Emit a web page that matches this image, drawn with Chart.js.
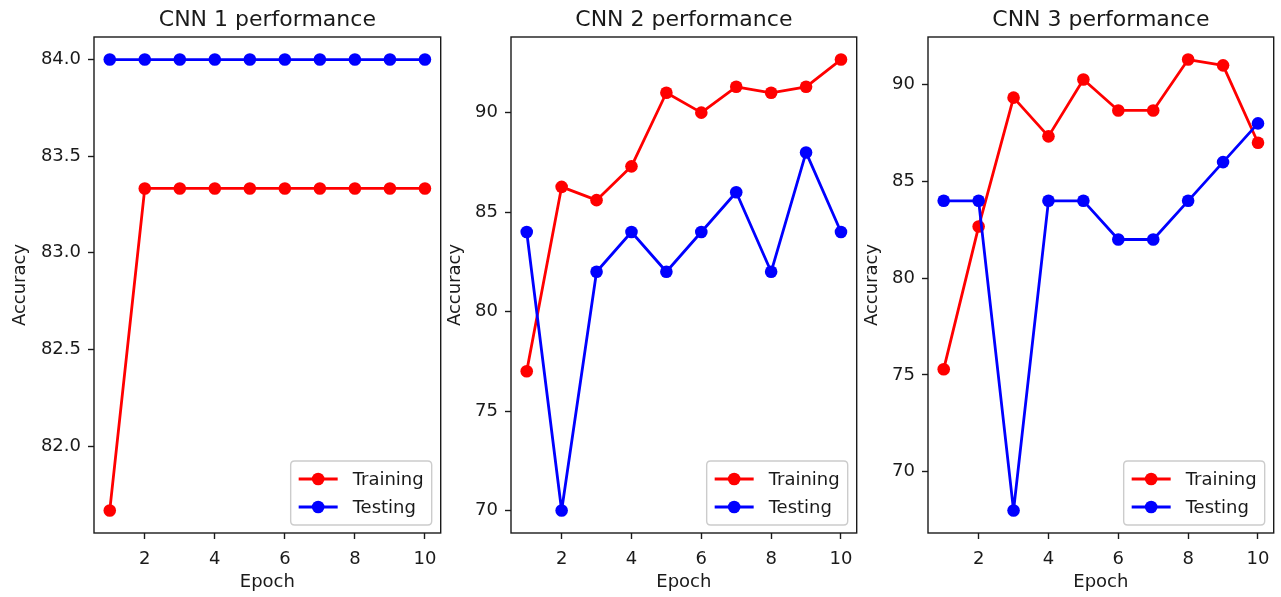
<!DOCTYPE html>
<html><head><meta charset="utf-8">
<script src="https://cdn.jsdelivr.net/npm/chart.js@4.4.0/dist/chart.umd.min.js"></script>
<style>
html,body{margin:0;padding:0;background:#fff;}
#wrap{position:relative;width:1281px;height:597px;overflow:hidden;background:#fff;}
canvas{position:absolute;top:0;}
</style></head><body>
<div id="wrap">
<canvas id="c1"></canvas><canvas id="c2"></canvas><canvas id="c3"></canvas>
</div>
<script>
// ---- data ----
const epochs = [1, 2, 3, 4, 5, 6, 7, 8, 9, 10];
const titles = ['CNN 1 performance', 'CNN 2 performance', 'CNN 3 performance'];
const seriesNames = ['Training', 'Testing'];
const xAxisLabel = 'Epoch';
const yAxisLabel = 'Accuracy';

const cnn1Training = [81.667, 83.333, 83.333, 83.333, 83.333, 83.333, 83.333, 83.333, 83.333, 83.333];
const cnn1Testing  = [84, 84, 84, 84, 84, 84, 84, 84, 84, 84];
const cnn2Training = [77, 86.27, 85.6, 87.3, 91, 90, 91.3, 91, 91.3, 92.67];
const cnn2Testing  = [84, 70, 82, 84, 82, 84, 86, 82, 88, 84];
const cnn3Training = [75.3, 82.67, 89.33, 87.33, 90.27, 88.67, 88.67, 91.3, 91, 87];
const cnn3Testing  = [84, 84, 68, 84, 84, 82, 82, 84, 86, 88];

const xTicks = [2, 4, 6, 8, 10];
const cnn1YTicks = [82.0, 82.5, 83.0, 83.5, 84.0];
const cnn2YTicks = [70, 75, 80, 85, 90];
const cnn3YTicks = [70, 75, 80, 85, 90];

// ---- styling / layout ----
Chart.defaults.font.family = '"DejaVu Sans", sans-serif';
Chart.defaults.color = '#1a1a1a';
const RED = '#ff0000', BLUE = '#0000ff', INK = '#1a1a1a';
const MR = 6.3, LW = 2.8;
const panels = [
  {id: 'c1', L: 94,  R: 442, train: cnn1Training, test: cnn1Testing, yTicks: cnn1YTicks, dec: 1, title: titles[0], ytPad: 10},
  {id: 'c2', L: 511, R: 858, train: cnn2Training, test: cnn2Testing, yTicks: cnn2YTicks, dec: 0, title: titles[1], ytPad: 28},
  {id: 'c3', L: 928, R: 1275, train: cnn3Training, test: cnn3Testing, yTicks: cnn3YTicks, dec: 0, title: titles[2], ytPad: 28},
];
const YAXIS_W = 94, XAXIS_H = 64, PAD_R = 5, H = 597;

const framePlugin = {
  id: 'frame',
  afterDatasetsDraw(chart) {
    const a = chart.chartArea, ctx = chart.ctx;
    ctx.save();
    ctx.strokeStyle = INK; ctx.lineWidth = 1.4;
    ctx.strokeRect(a.left, a.top, a.right - a.left, a.bottom - a.top);
    ctx.restore();
  }
};

function rr(ctx, x, y, w, h, r) {
  ctx.beginPath();
  ctx.moveTo(x + r, y);
  ctx.lineTo(x + w - r, y); ctx.quadraticCurveTo(x + w, y, x + w, y + r);
  ctx.lineTo(x + w, y + h - r); ctx.quadraticCurveTo(x + w, y + h, x + w - r, y + h);
  ctx.lineTo(x + r, y + h); ctx.quadraticCurveTo(x, y + h, x, y + h - r);
  ctx.lineTo(x, y + r); ctx.quadraticCurveTo(x, y, x + r, y);
  ctx.closePath();
}

const legendPlugin = {
  id: 'mplLegend',
  afterDraw(chart) {
    const ctx = chart.ctx, a = chart.chartArea, fs = 18;
    ctx.save();
    ctx.font = fs + 'px "DejaVu Sans"';
    const ds = chart.data.datasets;
    const tw = Math.max(...ds.map(d => ctx.measureText(d.label).width));
    const pad = 8, hl = 39, htp = 15;
    const w = pad + hl + htp + tw + pad, h = 64;
    const x = a.right - 9 - w, y = a.bottom - 8 - h;
    rr(ctx, x, y, w, h, 4);
    ctx.fillStyle = 'rgba(255,255,255,0.8)'; ctx.fill();
    ctx.strokeStyle = '#cccccc'; ctx.lineWidth = 1.4; ctx.stroke();
    ds.forEach((d, i) => {
      const cy = y + 18 + i * 28;
      ctx.strokeStyle = d.borderColor; ctx.lineWidth = LW;
      ctx.beginPath(); ctx.moveTo(x + pad, cy); ctx.lineTo(x + pad + hl, cy); ctx.stroke();
      ctx.fillStyle = d.borderColor;
      ctx.beginPath(); ctx.arc(x + pad + hl / 2, cy, MR, 0, Math.PI * 2); ctx.fill();
      ctx.fillStyle = INK; ctx.textBaseline = 'middle'; ctx.textAlign = 'left';
      ctx.fillText(d.label, x + pad + hl + htp, cy + 1);
    });
    ctx.restore();
  }
};

function pad5(vals) {
  const lo = Math.min(...vals), hi = Math.max(...vals), m = (hi - lo) * 0.05;
  return [lo - m, hi + m];
}

panels.forEach(p => {
  const cv = document.getElementById(p.id);
  const left = p.L - YAXIS_W;
  const width = p.R - p.L + YAXIS_W + PAD_R;
  cv.width = width; cv.height = H;
  cv.style.left = left + 'px'; cv.style.width = width + 'px'; cv.style.height = H + 'px';
  const [ymin, ymax] = pad5(p.train.concat(p.test));
  const mk = (label, vals, color, order) => ({
    label, order,
    data: epochs.map((e, i) => ({x: e, y: vals[i]})),
    borderColor: color, backgroundColor: color,
    pointBackgroundColor: color, pointBorderColor: color,
    borderWidth: LW, pointRadius: MR, pointBorderWidth: 0, pointHoverRadius: MR,
    borderJoinStyle: 'round', borderCapStyle: 'round',
    tension: 0, clip: false
  });
  new Chart(cv, {
    type: 'line',
    data: {datasets: [mk(seriesNames[0], p.train, RED, 2), mk(seriesNames[1], p.test, BLUE, 1)]},
    options: {
      responsive: false, animation: false, devicePixelRatio: 1,
      layout: {padding: {left: 0, right: PAD_R, top: 0, bottom: 0}},
      plugins: {
        legend: {display: false}, tooltip: {enabled: false},
        title: {display: true, text: p.title, fullSize: false, color: INK,
                font: {size: 22, weight: 'normal', lineHeight: 1}, padding: {top: 9, bottom: 6}}
      },
      scales: {
        x: {
          type: 'linear', position: 'bottom',
          min: epochs[0] - 0.45, max: epochs[epochs.length - 1] + 0.45,
          afterBuildTicks: s => { s.ticks = xTicks.map(v => ({value: v})); },
          afterFit: s => { s.height = XAXIS_H; },
          border: {display: false},
          grid: {display: true, drawOnChartArea: false, drawTicks: true, tickLength: 6, tickWidth: 1.4, tickColor: INK},
          ticks: {color: INK, font: {size: 18}, padding: 10, maxRotation: 0, autoSkip: false,
                  callback: v => String(v)},
          title: {display: true, text: xAxisLabel, color: INK, font: {size: 18}, padding: {top: 0, bottom: 4}}
        },
        y: {
          type: 'linear', position: 'left', min: ymin, max: ymax,
          afterBuildTicks: s => { s.ticks = p.yTicks.map(v => ({value: v})); },
          afterFit: s => { s.width = YAXIS_W; },
          border: {display: false},
          grid: {display: true, drawOnChartArea: false, drawTicks: true, tickLength: 6, tickWidth: 1.4, tickColor: INK},
          ticks: {color: INK, font: {size: 18}, padding: 7, autoSkip: false,
                  callback: v => Number(v).toFixed(p.dec)},
          title: {display: true, text: yAxisLabel, color: INK, font: {size: 18}, padding: {top: p.ytPad, bottom: 0}}
        }
      }
    },
    plugins: [framePlugin, legendPlugin]
  });
});
</script>
</body></html>
